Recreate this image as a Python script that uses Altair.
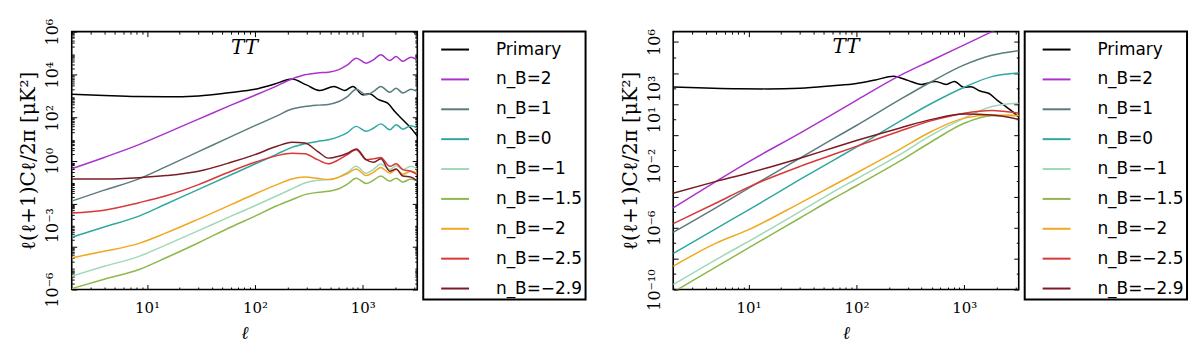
import altair as alt
import pandas as pd

# ---------------- data ----------------
SERIES = ["Primary", "n_B=2", "n_B=1", "n_B=0", "n_B=−1", "n_B=−1.5",
          "n_B=−2", "n_B=−2.5", "n_B=−2.9"]
COLORS = ["#000000", "#aa33cc", "#5b7b7f", "#30a8a0", "#a0d8b8", "#8cb84c",
          "#f0a820", "#d83838", "#7a1c24"]

# primary (lensed) CMB TT spectrum, identical in both panels
ell_primary = [2, 4, 8, 15, 30, 60, 100, 150, 220, 300, 400, 540, 680, 810,
               1000, 1150, 1400, 1700, 2000, 2400, 2800, 3200]
cl_primary = [1230, 1070, 955, 930, 1020, 1480, 2090, 3550, 6170, 3310, 1820,
              2820, 1820, 2820, 1150, 1290, 680, 470, 180, 71, 32, 14]

# left panel (vector-like modes)
ell_left = [2, 4, 8.4, 15, 30, 60, 100, 160, 220, 290, 380, 480, 600, 720,
            870, 1075, 1250, 1470, 1780, 2040, 2350, 2800, 3200]
left_nB2 = [0.42, 1.4, 5.5, 19, 85, 380, 1100, 3000, 6200, 9800, 1.2e4, 1.3e4,
            1.7e4, 2.8e4, 5.8e4, 3.4e4, 4.8e4, 8.3e4, 4.5e4, 6.9e4, 4.2e4,
            6.5e4, 4.8e4]
left_nB1 = [1.3e-2, 4.2e-2, 0.14, 0.52, 2.6, 13, 42, 120, 250, 330, 380, 410,
            560, 950, 2100, 1150, 1600, 2800, 1500, 2300, 1400, 2100, 1600]
left_nB0 = [2.7e-4, 8.1e-4, 2.6e-3, 9.5e-3, 4.6e-2, 0.22, 0.69, 2.0, 4.1, 6.0,
            7.8, 9.3, 13, 20, 39, 23, 32, 51, 27, 47, 29, 42, 32]
left_nBm1 = [4.2e-6, 1.2e-5, 3.5e-5, 1.2e-4, 5.5e-4, 2.6e-3, 7.9e-3, 2.3e-2,
             4.8e-2, 9.1e-2, 0.12, 0.13, 0.17, 0.28, 0.54, 0.26, 0.38, 0.69,
             0.38, 0.58, 0.38, 0.54, 0.41]
left_nBm15 = [1.1e-6, 3.0e-6, 8.5e-6, 3.0e-5, 1.5e-4, 8.1e-4, 2.6e-3, 7.9e-3,
              1.5e-2, 2.6e-2, 3.3e-2, 3.7e-2, 4.9e-2, 8.1e-2, 0.15, 8.5e-2,
              0.12, 0.19, 0.11, 0.15, 0.10, 0.14, 0.11]
left_nBm2 = [3.0e-5, 6.0e-5, 1.4e-4, 4.3e-4, 1.9e-3, 8.9e-3, 2.8e-2, 7.6e-2,
             0.14, 0.17, 0.15, 0.13, 0.17, 0.25, 0.41, 0.20, 0.28, 0.48, 0.26,
             0.38, 0.23, 0.32, 0.26]
left_nBm25 = [3.6e-3, 4.9e-3, 1.1e-2, 2.3e-2, 7.6e-2, 0.32, 0.83, 1.7, 2.2,
              2.1, 1.1, 0.71, 1.1, 1.9, 3.2, 1.1, 1.2, 1.4, 0.54, 0.71, 0.38,
              0.32, 0.22]
left_nBm29 = [0.14, 0.14, 0.16, 0.20, 0.32, 0.83, 1.9, 4.6, 7.1, 6.5, 2.7, 1.3,
              1.6, 2.2, 3.5, 1.1, 0.83, 1.2, 0.32, 0.41, 0.19, 0.17, 0.11]

# right panel (tensor-like modes)
ell_right = [2, 5, 10, 30, 60, 100, 250, 500, 1000, 1800, 3200]
right_nB2 = [1.9e-5, 9.8e-4, 1.8e-2, 1.3, 21, 170, 6500, 6.6e4, 6.5e5, 4.5e6,
             2.6e7]
right_nB1 = [5.0e-7, 2.0e-5, 3.6e-4, 3.1e-2, 0.52, 4.0, 180, 2800, 3.3e4,
             1.4e5, 2.8e5]
right_nB0 = [2.1e-8, 8.7e-7, 1.4e-5, 1.3e-3, 2.1e-2, 0.16, 7.2, 110, 1200,
             5800, 1.0e4]
right_nBm1 = [2.1e-10, 8.7e-9, 1.3e-7, 1.1e-5, 1.9e-4, 1.4e-3, 5.1e-2, 1.0, 12,
              68, 110]
right_nBm15 = [6.8e-11, 2.9e-9, 4.9e-8, 4.2e-6, 7.1e-5, 5.1e-4, 1.9e-2, 0.37,
               5.6, 17, 18]
right_nBm2 = [3.2e-9, 1.0e-7, 7.4e-7, 3.9e-5, 5.1e-4, 3.4e-3, 0.11, 1.7, 12,
              19, 18]
right_nBm25 = [1.8e-6, 3.9e-5, 4.2e-4, 9.1e-3, 5.1e-2, 0.18, 1.7, 8.3, 25, 37,
               25]
right_nBm29 = [1.7e-4, 9.8e-4, 3.4e-3, 3.1e-2, 0.14, 0.43, 2.7, 10, 22, 19, 10]

# axis ticks / labels
x_label_exps = [1, 2, 3]
left_y_label_exps = [6, 4, 2, 0, -3, -6]
right_y_label_exps = [6, 3, 1, -2, -6, -10]

X_DOMAIN = [2, 3200]
LEFT_Y_DOMAIN = [1e-6, 1e6]
RIGHT_Y_DOMAIN = [1e-10, 4.7e6]

# ---------------- helpers ----------------
SUP = str.maketrans("-0123456789", "⁻⁰¹²³⁴⁵⁶⁷⁸⁹")


def exp_label(e):
    return "10" + str(e).translate(SUP)


def label_expr(exps):
    expr = "''"
    for e in reversed(exps):
        expr = f"(round(log(datum.value)/LN10)=={e}) ? '{exp_label(e)}' : {expr}"
    return expr


def panel_df(ells, values):
    rows = []
    for l, v in zip(ell_primary, cl_primary):
        rows.append({"ell": l, "cl": v, "series": SERIES[0]})
    for name, vals in zip(SERIES[1:], values):
        for l, v in zip(ells, vals):
            rows.append({"ell": l, "cl": v, "series": name})
    return pd.DataFrame(rows)


def tick_axis(orient, values, size):
    return alt.Axis(orient=orient, values=values, labels=False, domain=False,
                    grid=False, ticks=True, tickSize=size, offset=-size,
                    tickColor="black", tickWidth=1, title=None)


SERIF = "DejaVu Serif"
YTITLE = "ℓ(ℓ+1)Cℓ/2π  [μK²]"

x_major = [10, 100, 1000]
x_minor = [k * d for d in (1, 10, 100) for k in range(2, 10)] + [2000, 3000]


def panel(df, ydom, y_major, y_minor, y_label_exps, title_offset):
    xs = alt.Scale(type="log", domain=X_DOMAIN, nice=False)
    ys = alt.Scale(type="log", domain=ydom, nice=False)
    base = alt.Chart(df)

    x_lab = alt.Axis(orient="bottom", values=[10 ** e for e in x_label_exps],
                     labelExpr=label_expr(x_label_exps), ticks=False,
                     tickSize=0, domain=False, grid=False, labelFont=SERIF,
                     labelFontSize=15, labelColor="black", labelPadding=11,
                     title="ℓ", titleFont=SERIF, titleFontStyle="italic",
                     titleFontWeight="normal", titleFontSize=18,
                     titleColor="black", titlePadding=9)
    y_lab = alt.Axis(orient="left", values=[10.0 ** e for e in y_label_exps],
                     labelExpr=label_expr(y_label_exps), ticks=False,
                     tickSize=0, domain=False, grid=False, labelFont=SERIF,
                     labelFontSize=16, labelColor="black", labelAngle=270,
                     labelAlign="center", labelBaseline="bottom",
                     labelPadding=11, title=YTITLE, titleFont=SERIF,
                     titleFontWeight="normal", titleFontSize=20,
                     titleColor="black", titlePadding=6)

    lines = base.mark_line(clip=True, strokeWidth=1.5, interpolate="monotone").encode(
        x=alt.X("ell:Q", scale=xs, axis=x_lab),
        y=alt.Y("cl:Q", scale=ys, axis=y_lab),
        color=alt.Color("series:N",
                        scale=alt.Scale(domain=SERIES, range=COLORS),
                        legend=alt.Legend(title=None)),
    )

    def ticks(xo, yo, xv, yv, size):
        return base.mark_point(opacity=0, clip=True).encode(
            x=alt.X("ell:Q", scale=xs, axis=tick_axis(xo, xv, size)),
            y=alt.Y("cl:Q", scale=ys, axis=tick_axis(yo, yv, size)),
        )

    layers = [
        lines,
        ticks("bottom", "left", x_major, y_major, 5),
        ticks("top", "right", x_major, y_major, 5),
        ticks("bottom", "left", x_minor, y_minor, 2.5),
        ticks("top", "right", x_minor, y_minor, 2.5),
    ]
    return alt.layer(*layers).resolve_axis(
        x="independent", y="independent"
    ).properties(
        width=347, height=259,
        title=alt.TitleParams(text="TT", font=SERIF, fontStyle="italic",
                              fontWeight="normal", fontSize=20,
                              anchor="middle", offset=title_offset,
                              frame="group", color="black"),
    )


left_df = panel_df(ell_left, [left_nB2, left_nB1, left_nB0, left_nBm1,
                              left_nBm15, left_nBm2, left_nBm25, left_nBm29])
right_df = panel_df(ell_right, [right_nB2, right_nB1, right_nB0, right_nBm1,
                                right_nBm15, right_nBm2, right_nBm25,
                                right_nBm29])

left_y_major = [10.0 ** e for e in range(-6, 7, 2)]
left_y_minor = [k * 10.0 ** e for e in range(-6, 6) for k in range(2, 10)]
right_y_major = [10.0 ** e for e in range(-10, 7, 2)]
right_y_minor = [10.0 ** e for e in range(-9, 6, 2)]

left = panel(left_df, LEFT_Y_DOMAIN, left_y_major, left_y_minor,
             left_y_label_exps, -40)
right = panel(right_df, RIGHT_Y_DOMAIN, right_y_major, right_y_minor,
              right_y_label_exps, -28)

chart = alt.hconcat(left, right, spacing=32).resolve_scale(
    color="independent"
).resolve_legend(
    color="independent"
).properties(
    padding={"left": 10, "top": 8, "right": 3, "bottom": 4}
).configure_view(
    stroke="black", strokeWidth=1.6
).configure_legend(
    orient="right", offset=5, padding=3, strokeColor="black", strokeWidth=2,
    fillColor="white", symbolType="stroke", symbolSize=784,
    symbolStrokeWidth=2, symbolOffset=14, labelFont="DejaVu Sans",
    labelFontSize=17, labelColor="black", labelOffset=26, rowPadding=7,
)

chart.save("out.html", embed_options={"renderer": "svg", "actions": False})
